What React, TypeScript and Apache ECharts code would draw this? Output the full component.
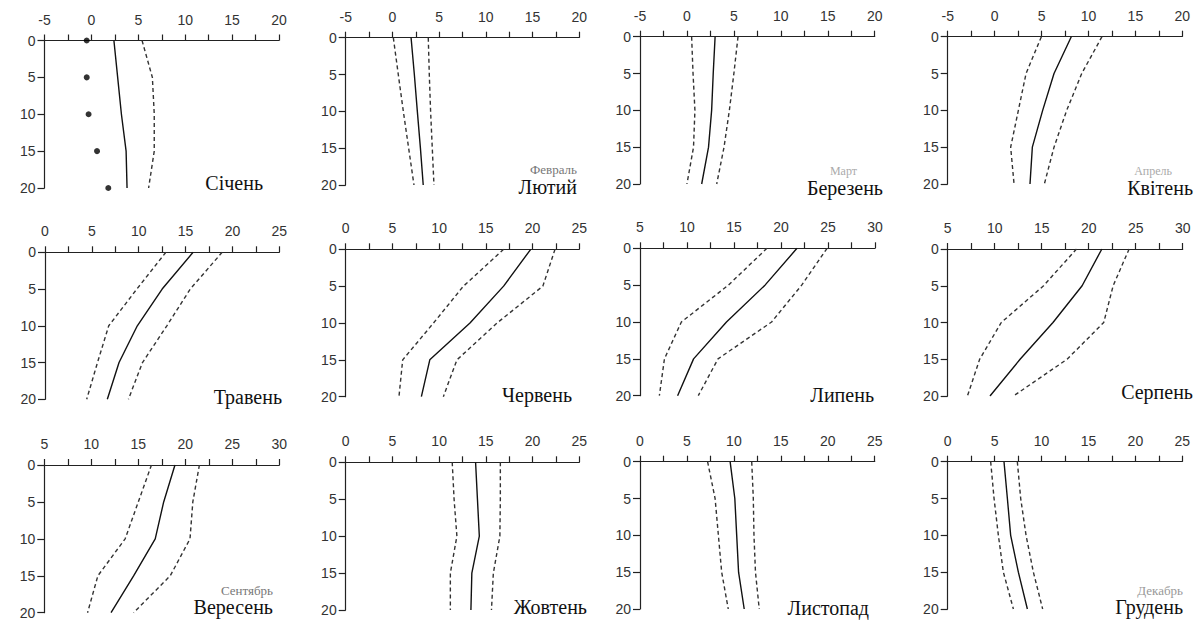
import React, { useEffect, useRef } from "react";
import * as echarts from "echarts";

const DEPTHS = [0, 5, 10, 15, 20];
const MONTHS = ["Січень", "Лютий", "Березень", "Квітень", "Травень", "Червень", "Липень", "Серпень", "Вересень", "Жовтень", "Листопад", "Грудень"];
const ALT_NAMES = ["", "Февраль", "Март", "Апрель", "", "", "", "", "Сентябрь", "", "", "Декабрь"];
const X_MIN = [-5, -5, -5, -5, 0, 0, 5, 5, 5, 0, 0, 0];
const X_SPAN = 25;

const MEAN: number[][] = [
  [2.4, 2.8, 3.2, 3.7, 3.8],
  [2.0, 2.35, 2.67, 3.0, 3.3],
  [3.0, 2.8, 2.63, 2.3, 1.57],
  [8.17, 6.33, 5.12, 4.02, 3.77],
  [15.8, 12.5, 9.85, 7.9, 6.65],
  [19.8, 16.9, 13.3, 9.0, 8.1],
  [21.7, 18.3, 14.2, 10.7, 9.0],
  [21.4, 19.3, 16.2, 12.7, 9.5],
  [18.9, 17.7, 16.8, 14.5, 12.1],
  [13.9, 14.1, 14.3, 13.5, 13.4],
  [9.6, 10.1, 10.3, 10.5, 11.1],
  [6.0, 6.36, 6.71, 7.53, 8.49],
];
const LOWER: (number[] | null)[] = [
  null,
  [0.1, 0.63, 1.17, 1.74, 2.31],
  [0.5, 0.65, 0.85, 0.7, 0.0],
  [4.98, 3.35, 2.53, 1.71, 2.07],
  [12.9, 9.8, 6.8, 5.6, 4.45],
  [16.9, 12.6, 9.4, 6.1, 5.7],
  [18.5, 14.4, 9.4, 7.6, 7.06],
  [18.7, 15.2, 10.7, 8.4, 7.1],
  [16.4, 15.0, 13.6, 10.7, 9.6],
  [11.4, 11.6, 11.9, 11.2, 11.2],
  [7.2, 8.0, 8.35, 8.7, 9.4],
  [4.58, 4.94, 5.4, 5.93, 7.0],
];
const UPPER: number[][] = [
  [5.4, 6.5, 6.7, 6.7, 6.1],
  [3.84, 3.95, 4.09, 4.27, 4.45],
  [5.44, 5.0, 4.52, 3.95, 3.17],
  [11.44, 9.28, 7.68, 6.33, 5.3],
  [18.9, 15.5, 13.0, 10.4, 8.9],
  [22.4, 21.1, 16.2, 11.9, 10.45],
  [24.9, 22.2, 19.0, 13.3, 11.2],
  [24.3, 22.6, 21.6, 17.7, 12.0],
  [21.5, 20.8, 20.5, 18.4, 14.5],
  [16.55, 16.55, 16.5, 15.8, 15.6],
  [11.9, 12.07, 12.14, 12.3, 12.7],
  [7.42, 7.78, 8.35, 9.13, 10.12],
];
const JAN_DOTS = [-0.5, -0.5, -0.3, 0.6, 1.8];

// layout (pixels)
const GRIDS = [
  [44.5, 40.5, 234.5, 147.5],
  [345.7, 37.7, 233.5, 147.3],
  [640, 36.7, 234.7, 147.3],
  [947.7, 36.7, 234.6, 147.3],
  [45, 252.3, 234.3, 147],
  [345.7, 249.3, 233.6, 147.4],
  [640, 248.3, 235, 147.4],
  [947.7, 249, 235, 147],
  [44.3, 465, 235, 147.7],
  [345.7, 462.3, 233.6, 147.7],
  [640, 461.7, 234.7, 147.3],
  [947.7, 461.7, 234.6, 147.3],
];
const LABEL_POS = [
  [263, 183], [577, 187], [883, 188], [1193, 188],
  [282, 397], [572, 395], [874, 395], [1193, 392],
  [273, 607], [587, 607], [869, 608], [1183, 607],
];
const ALT_POS = [
  null, [577, 169, 13, "#777"], [857, 171, 12, "#aaa"], [1172, 171, 12, "#aaa"],
  null, null, null, null,
  [273, 590, 13, "#777"], null, null, [1183, 590, 13, "#999"],
];

const AXIS_COLOR = "#222";
const LABEL_COLOR = "#333";

export default function App() {
  const ref = useRef<HTMLDivElement>(null);
  useEffect(() => {
    if (!ref.current) return;
    const chart = echarts.init(ref.current, undefined, { renderer: "svg" });
    const grid: any[] = [];
    const xAxis: any[] = [];
    const yAxis: any[] = [];
    const series: any[] = [];
    const graphic: any[] = [];
    for (let i = 0; i < 12; i++) {
      const [l, t, w, h] = GRIDS[i];
      grid.push({ left: l, top: t, width: w, height: h });
      xAxis.push({
        type: "value",
        gridIndex: i,
        position: "top",
        min: X_MIN[i],
        max: X_MIN[i] + X_SPAN,
        interval: 5,
        axisLine: { show: true, onZero: false, lineStyle: { color: AXIS_COLOR, width: 1.2 } },
        axisTick: { show: true, length: 6, lineStyle: { color: AXIS_COLOR, width: 1.2 } },
        minorTick: { show: true, splitNumber: 2, length: 6, lineStyle: { color: AXIS_COLOR, width: 1.2 } },
        splitLine: { show: false },
        minorSplitLine: { show: false },
        axisLabel: { fontSize: 14, margin: 14, color: LABEL_COLOR, fontFamily: "Liberation Sans, Arial, sans-serif" },
      });
      yAxis.push({
        type: "value",
        gridIndex: i,
        inverse: true,
        min: 0,
        max: 20,
        interval: 5,
        axisLine: { show: true, onZero: false, lineStyle: { color: AXIS_COLOR, width: 1.2 } },
        axisTick: { show: true, length: 7, lineStyle: { color: AXIS_COLOR, width: 1.2 } },
        splitLine: { show: false },
        axisLabel: { fontSize: 14, margin: 9, color: LABEL_COLOR, fontFamily: "Liberation Sans, Arial, sans-serif" },
      });
      series.push({
        type: "line",
        xAxisIndex: i,
        yAxisIndex: i,
        data: MEAN[i].map((v, k) => [v, DEPTHS[k]]),
        symbol: "none",
        lineStyle: { color: "#111", width: 1.4, type: "solid" },
      });
      const low = LOWER[i];
      if (low) {
        series.push({
          type: "line",
          xAxisIndex: i,
          yAxisIndex: i,
          data: low.map((v, k) => [v, DEPTHS[k]]),
          symbol: "none",
          lineStyle: { color: "#333", width: 1.4, type: [4, 3] },
        });
      }
      series.push({
        type: "line",
        xAxisIndex: i,
        yAxisIndex: i,
        data: UPPER[i].map((v, k) => [v, DEPTHS[k]]),
        symbol: "none",
        lineStyle: { color: "#333", width: 1.4, type: [4, 3] },
      });
      const alt = ALT_POS[i] as any;
      if (alt && ALT_NAMES[i]) {
        graphic.push({
          type: "text",
          style: {
            text: ALT_NAMES[i],
            x: alt[0],
            y: alt[1],
            fontSize: alt[2],
            fontFamily: "Liberation Serif, Times New Roman, serif",
            fill: alt[3],
            textAlign: "right",
            textVerticalAlign: "middle",
            verticalAlign: "middle",
          },
        });
      }
      graphic.push({
        type: "text",
        style: {
          text: MONTHS[i],
          x: LABEL_POS[i][0],
          y: LABEL_POS[i][1],
          fontSize: 20,
          fontFamily: "Liberation Serif, Times New Roman, serif",
          fill: "#111",
          textAlign: "right",
          textVerticalAlign: "middle",
          verticalAlign: "middle",
        },
      });
    }
    series.push({
      type: "scatter",
      xAxisIndex: 0,
      yAxisIndex: 0,
      data: JAN_DOTS.map((v, k) => [v, DEPTHS[k]]),
      symbol: "circle",
      symbolSize: 6,
      itemStyle: { color: "#000" },
    });
    chart.setOption({
      animation: false,
      backgroundColor: "#fff",
      grid,
      xAxis,
      yAxis,
      series,
      graphic,
    });
    return () => chart.dispose();
  }, []);
  return (
    <div
      ref={ref}
      style={{ position: "fixed", left: 0, top: 0, width: 1203, height: 621, background: "#fff" }}
    />
  );
}
